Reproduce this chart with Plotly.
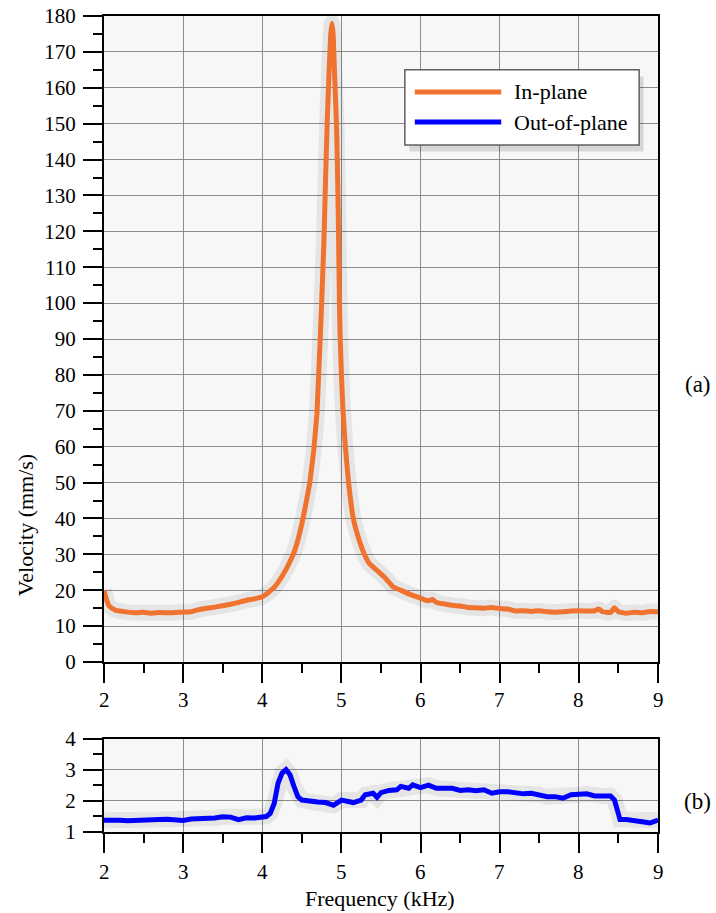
import plotly.graph_objects as go

# ---- Data ----
inplane_freq = [2.00, 2.03, 2.06, 2.10, 2.15, 2.20, 2.30, 2.40, 2.50, 2.60, 2.70, 2.80, 2.90,
                3.00, 3.10, 3.20, 3.30, 3.40, 3.50, 3.60, 3.70, 3.80, 3.90, 4.00, 4.05, 4.10,
                4.15, 4.20, 4.25, 4.30, 4.35, 4.40, 4.45, 4.50, 4.55, 4.60, 4.65, 4.69, 4.71,
                4.73, 4.75, 4.78, 4.80, 4.82, 4.845, 4.865, 4.88, 4.895, 4.915, 4.94, 4.96,
                4.975, 4.985, 5.00, 5.02, 5.05, 5.09, 5.15, 5.21, 5.29, 5.35, 5.45, 5.55,
                5.65, 5.75, 5.85, 5.95, 6.00, 6.05, 6.10, 6.15, 6.20, 6.30, 6.40, 6.50, 6.60,
                6.70, 6.80, 6.90, 7.00, 7.10, 7.20, 7.30, 7.40, 7.50, 7.60, 7.70, 7.80, 7.90,
                8.00, 8.10, 8.20, 8.25, 8.30, 8.40, 8.45, 8.50, 8.60, 8.70, 8.80, 8.90, 9.00]
inplane_vel = [20.0, 17.5, 15.8, 15.0, 14.4, 14.2, 13.9, 13.7, 13.9, 13.6, 13.8, 13.7, 13.8,
               13.9, 14.0, 14.6, 15.0, 15.3, 15.7, 16.1, 16.6, 17.2, 17.6, 18.2, 18.9, 19.8,
               20.8, 22.2, 23.9, 25.8, 28.0, 30.5, 34.0, 38.5, 44.0, 50.0, 59.0, 69.0, 79.0,
               89.0, 100.0, 118.0, 135.0, 150.0, 165.0, 175.0, 178.0, 175.0, 163.0, 148.0,
               125.0, 100.0, 90.0, 80.0, 70.0, 60.0, 50.0, 40.0, 35.0, 30.0, 27.5, 25.5,
               23.5, 21.0, 20.0, 19.0, 18.2, 17.8, 17.3, 17.1, 17.4, 16.6, 16.2, 15.8, 15.6,
               15.2, 15.1, 15.0, 15.2, 14.9, 14.8, 14.2, 14.3, 14.1, 14.3, 14.0, 13.9, 14.0,
               14.2, 14.3, 14.2, 14.3, 14.8, 14.0, 13.8, 15.1, 14.0, 13.6, 13.9, 13.7, 14.1, 14.0]

outplane_freq = [2.00, 2.10, 2.20, 2.30, 2.40, 2.50, 2.60, 2.70, 2.80, 2.90, 3.00, 3.10,
                 3.20, 3.30, 3.40, 3.50, 3.60, 3.70, 3.80, 3.90, 4.00, 4.05, 4.10, 4.15,
                 4.20, 4.25, 4.30, 4.35, 4.40, 4.45, 4.50, 4.60, 4.70, 4.80, 4.90, 5.00,
                 5.10, 5.15, 5.25, 5.30, 5.40, 5.45, 5.50, 5.60, 5.70, 5.75, 5.85, 5.90,
                 6.00, 6.10, 6.20, 6.30, 6.40, 6.50, 6.60, 6.70, 6.80, 6.90, 7.00, 7.10,
                 7.20, 7.30, 7.40, 7.50, 7.60, 7.70, 7.80, 7.90, 8.00, 8.10, 8.20, 8.30,
                 8.40, 8.45, 8.50, 8.52, 8.60, 8.70, 8.80, 8.90, 9.00]
outplane_vel = [1.38, 1.40, 1.38, 1.36, 1.38, 1.39, 1.40, 1.40, 1.41, 1.40, 1.37, 1.42,
                1.43, 1.40, 1.45, 1.49, 1.48, 1.40, 1.46, 1.45, 1.49, 1.50, 1.60, 1.92,
                2.58, 2.90, 3.01, 2.85, 2.47, 2.14, 2.03, 1.98, 1.97, 1.95, 1.86, 2.03,
                2.00, 1.95, 2.03, 2.20, 2.25, 2.12, 2.27, 2.34, 2.36, 2.47, 2.41, 2.52,
                2.43, 2.51, 2.41, 2.40, 2.41, 2.34, 2.36, 2.33, 2.36, 2.25, 2.30, 2.30,
                2.25, 2.23, 2.25, 2.20, 2.14, 2.14, 2.09, 2.20, 2.20, 2.23, 2.16, 2.16,
                2.16, 2.03, 1.60, 1.40, 1.40, 1.38, 1.33, 1.29, 1.38]

series_names = ["In-plane", "Out-of-plane"]
series_colors = ["#F0722F", "#0000FF"]

freq_ticks = [2, 3, 4, 5, 6, 7, 8, 9]
freq_tick_labels = ["2", "3", "4", "5", "6", "7", "8", "9"]
top_y_ticks = list(range(0, 181, 10))
bot_y_ticks = [1, 2, 3, 4]

FONT = "Liberation Serif, Times New Roman, serif"
TICKFONT = dict(family=FONT, size=21, color="black")

fig = go.Figure()

# soft shadows under the curves
fig.add_trace(go.Scatter(x=inplane_freq, y=inplane_vel, mode="lines", xaxis="x", yaxis="y",
                         line=dict(color="rgba(0,0,0,0.07)", width=16, shape="spline", smoothing=0.3),
                         hoverinfo="skip", showlegend=False))
fig.add_trace(go.Scatter(x=outplane_freq, y=outplane_vel, mode="lines", xaxis="x2", yaxis="y2",
                         line=dict(color="rgba(0,0,0,0.07)", width=16),
                         hoverinfo="skip", showlegend=False))

fig.add_trace(go.Scatter(x=inplane_freq, y=inplane_vel, mode="lines", name=series_names[0],
                         xaxis="x", yaxis="y",
                         line=dict(color=series_colors[0], width=5, shape="spline", smoothing=0.3),
                         showlegend=False))
fig.add_trace(go.Scatter(x=outplane_freq, y=outplane_vel, mode="lines", name=series_names[1],
                         xaxis="x2", yaxis="y2",
                         line=dict(color=series_colors[1], width=5),
                         showlegend=False))

axis_common = dict(
    showline=True, linecolor="black", linewidth=2, mirror=True,
    ticks="outside", ticklen=19, tickwidth=2, tickcolor="black",
    showgrid=True, gridcolor="#8c8c8c", gridwidth=1,
    zeroline=False, tickfont=TICKFONT, automargin=False,
)
minor_x = dict(dtick=0.5, ticklen=9, tickwidth=1.5, tickcolor="black", ticks="outside", showgrid=False)

TOP_DOMAIN = [0.2083, 1]
BOT_DOMAIN = [0, 0.114]

fig.update_layout(
    width=716, height=913,
    margin=dict(l=104, r=58, t=16, b=81),
    paper_bgcolor="white", plot_bgcolor="#f7f7f7",
    font=dict(family=FONT, color="black"),
    xaxis=dict(domain=[0, 1], anchor="y", range=[2, 9], tickvals=freq_ticks,
               showticklabels=False, minor=minor_x, **axis_common),
    yaxis=dict(domain=TOP_DOMAIN, anchor="x", range=[0, 180], tickvals=top_y_ticks,
               minor=dict(dtick=5, ticklen=9, tickwidth=1.5, tickcolor="black",
                          ticks="outside", showgrid=False),
               ticklabelstandoff=3, **axis_common),
    xaxis2=dict(domain=[0, 1], anchor="y2", range=[2, 9], tickvals=freq_ticks,
                showticklabels=False, minor=minor_x, **axis_common),
    yaxis2=dict(domain=BOT_DOMAIN, anchor="x2", range=[1, 4], tickvals=bot_y_ticks,
                minor=dict(dtick=0.5, ticklen=9, tickwidth=1.5, tickcolor="black",
                           ticks="outside", showgrid=False),
                ticklabelstandoff=3, **axis_common),
)

# x tick labels placed on the axes' own scale (below the tick marks)
for xr, ybase, shift in (("x", TOP_DOMAIN[0], -38), ("x2", BOT_DOMAIN[0], -40)):
    for t, lab in zip(freq_ticks, freq_tick_labels):
        fig.add_annotation(x=t, xref=xr, y=ybase, yref="paper", yshift=shift, text=lab,
                           showarrow=False, xanchor="center", yanchor="middle", font=TICKFONT)

# ---- Hand-drawn legend box (long line samples, as in the reference) ----
lx0, lx1, ly0, ly1 = 0.543, 0.966, 0.842, 0.934
fig.add_shape(type="rect", xref="paper", yref="paper", x0=lx0 + 0.008, x1=lx1 + 0.008,
              y0=ly0 - 0.008, y1=ly1 - 0.008, line=dict(width=0), fillcolor="rgba(0,0,0,0.13)")
fig.add_shape(type="rect", xref="paper", yref="paper", x0=lx0, x1=lx1, y0=ly0, y1=ly1,
              line=dict(color="#606060", width=1.5), fillcolor="white")
legend_rows = [0.907, 0.870]
for name, color, yy in zip(series_names, series_colors, legend_rows):
    fig.add_shape(type="line", xref="paper", yref="paper", x0=0.561, x1=0.717, y0=yy, y1=yy,
                  line=dict(color=color, width=5))
    fig.add_annotation(xref="paper", yref="paper", x=0.736, y=yy, text=name, showarrow=False,
                       xanchor="left", yanchor="middle", font=dict(family=FONT, size=22, color="black"))

# ---- Titles and panel labels ----
fig.add_annotation(xref="paper", yref="paper", x=-0.1426, y=0.376, text="Velocity (mm/s)",
                   textangle=-90, showarrow=False, xanchor="center", yanchor="middle",
                   font=dict(family=FONT, size=22, color="black"))
fig.add_annotation(xref="paper", yref="paper", x=0.498, y=-0.0815, text="Frequency (kHz)",
                   showarrow=False, xanchor="center", yanchor="middle",
                   font=dict(family=FONT, size=22, color="black"))
fig.add_annotation(xref="paper", yref="paper", x=1.072, y=0.548, text="(a)", showarrow=False,
                   xanchor="center", yanchor="middle", font=dict(family=FONT, size=23, color="black"))
fig.add_annotation(xref="paper", yref="paper", x=1.072, y=0.0368, text="(b)", showarrow=False,
                   xanchor="center", yanchor="middle", font=dict(family=FONT, size=23, color="black"))

fig.write_html("out.html")
